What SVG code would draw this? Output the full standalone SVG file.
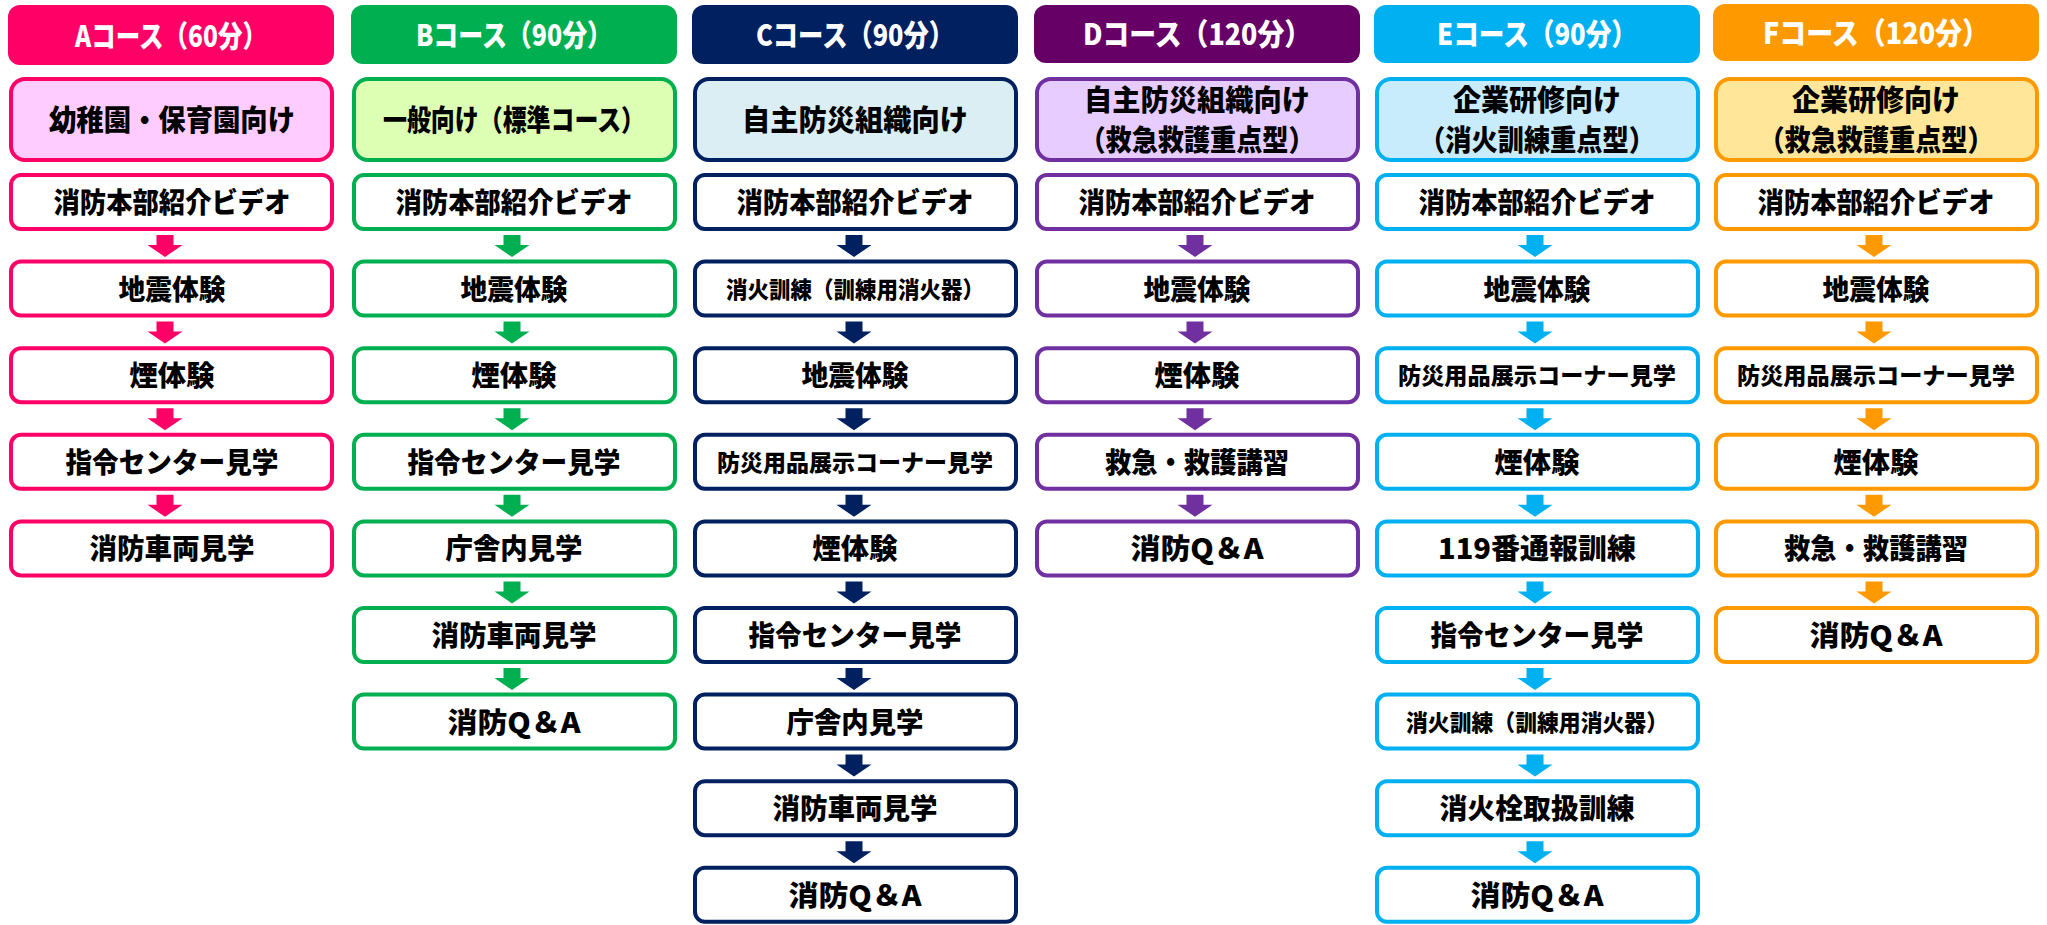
<svg xmlns="http://www.w3.org/2000/svg" width="2047" height="925" viewBox="0 0 2047 925">
<style>
text{font-family:"Noto Sans CJK JP","Noto Sans",sans-serif;font-weight:900;text-anchor:middle}
.h{fill:#fff;font-size:30px}
.s{fill:#000;font-size:29px}
.t{fill:#000;font-size:28px}
.m{fill:#000;font-size:23px}
.box{fill:#fff;stroke-width:4}
.sub{stroke-width:4}
.cA{stroke:#FF0066}.fA{fill:#FF0066}
.cB{stroke:#00B050}.fB{fill:#00B050}
.cC{stroke:#002060}.fC{fill:#002060}
.cD{stroke:#7030A0}.fD{fill:#7030A0}.hD{fill:#660066}
.cE{stroke:#00B0F0}.fE{fill:#00B0F0}
.cF{stroke:#FF9900}.fF{fill:#FF9900}
</style>
<rect width="2047" height="925" fill="#fff"/>

<!-- Column A -->
<g id="A-header"><rect x="8" y="5" width="326" height="60" rx="12" class="fA"/><text x="171" y="47" class="h" textLength="192" lengthAdjust="spacingAndGlyphs">Aコース（60分）</text></g>
<g id="A-sub"><rect x="11" y="79" width="321" height="81" rx="14" class="sub cA" fill="#FFCCFF"/><text x="172" y="131" class="s" textLength="246" lengthAdjust="spacingAndGlyphs">幼稚園・保育園向け</text></g>
<g id="A1"><rect x="11" y="175" width="321" height="54" rx="10" class="box cA"/><text x="172" y="213" class="t" textLength="237" lengthAdjust="spacingAndGlyphs">消防本部紹介ビデオ</text></g>
<g id="A2"><rect x="11" y="261.6" width="321" height="54" rx="10" class="box cA"/><text x="172" y="299.6" class="t" textLength="107" lengthAdjust="spacingAndGlyphs">地震体験</text></g>
<g id="A3"><rect x="11" y="348.2" width="321" height="54" rx="10" class="box cA"/><text x="172" y="386.2" class="t" textLength="85" lengthAdjust="spacingAndGlyphs">煙体験</text></g>
<g id="A4"><rect x="11" y="434.8" width="321" height="54" rx="10" class="box cA"/><text x="172" y="472.8" class="t" textLength="213" lengthAdjust="spacingAndGlyphs">指令センター見学</text></g>
<g id="A5"><rect x="11" y="521.4" width="321" height="54" rx="10" class="box cA"/><text x="172" y="559.4" class="t" textLength="165" lengthAdjust="spacingAndGlyphs">消防車両見学</text></g>

<!-- Column B -->
<g id="B-header"><rect x="351" y="5" width="326" height="59" rx="12" class="fB"/><text x="514" y="46" class="h" textLength="196" lengthAdjust="spacingAndGlyphs">Bコース（90分）</text></g>
<g id="B-sub"><rect x="354" y="79" width="321" height="81" rx="14" class="sub cB" fill="#DCFFB4"/><text x="514" y="131" class="s" textLength="262" lengthAdjust="spacingAndGlyphs">一般向け（標準コース）</text></g>
<g id="B1"><rect x="354" y="175" width="321" height="54" rx="10" class="box cB"/><text x="514" y="213" class="t" textLength="237" lengthAdjust="spacingAndGlyphs">消防本部紹介ビデオ</text></g>
<g id="B2"><rect x="354" y="261.6" width="321" height="54" rx="10" class="box cB"/><text x="514" y="299.6" class="t" textLength="107" lengthAdjust="spacingAndGlyphs">地震体験</text></g>
<g id="B3"><rect x="354" y="348.2" width="321" height="54" rx="10" class="box cB"/><text x="514" y="386.2" class="t" textLength="85" lengthAdjust="spacingAndGlyphs">煙体験</text></g>
<g id="B4"><rect x="354" y="434.8" width="321" height="54" rx="10" class="box cB"/><text x="514" y="472.8" class="t" textLength="213" lengthAdjust="spacingAndGlyphs">指令センター見学</text></g>
<g id="B5"><rect x="354" y="521.4" width="321" height="54" rx="10" class="box cB"/><text x="514" y="559.4" class="t" textLength="137" lengthAdjust="spacingAndGlyphs">庁舎内見学</text></g>
<g id="B6"><rect x="354" y="608" width="321" height="54" rx="10" class="box cB"/><text x="514" y="646" class="t" textLength="165" lengthAdjust="spacingAndGlyphs">消防車両見学</text></g>
<g id="B7"><rect x="354" y="694.6" width="321" height="54" rx="10" class="box cB"/><text x="514" y="732.6" class="t" textLength="133" lengthAdjust="spacingAndGlyphs">消防Q＆A</text></g>

<!-- Column C -->
<g id="C-header"><rect x="692" y="5" width="326" height="59" rx="12" class="fC"/><text x="855" y="46" class="h" textLength="198" lengthAdjust="spacingAndGlyphs">Cコース（90分）</text></g>
<g id="C-sub"><rect x="695" y="79" width="321" height="81" rx="14" class="sub cC" fill="#DAEEF3"/><text x="855" y="131" class="s" textLength="226" lengthAdjust="spacingAndGlyphs">自主防災組織向け</text></g>
<g id="C1"><rect x="695" y="175" width="321" height="54" rx="10" class="box cC"/><text x="855" y="213" class="t" textLength="237" lengthAdjust="spacingAndGlyphs">消防本部紹介ビデオ</text></g>
<g id="C2"><rect x="695" y="261.6" width="321" height="54" rx="10" class="box cC"/><text x="855" y="297.6" class="m" textLength="258" lengthAdjust="spacingAndGlyphs">消火訓練（訓練用消火器）</text></g>
<g id="C3"><rect x="695" y="348.2" width="321" height="54" rx="10" class="box cC"/><text x="855" y="386.2" class="t" textLength="107" lengthAdjust="spacingAndGlyphs">地震体験</text></g>
<g id="C4"><rect x="695" y="434.8" width="321" height="54" rx="10" class="box cC"/><text x="855" y="470.8" class="m" textLength="276" lengthAdjust="spacingAndGlyphs">防災用品展示コーナー見学</text></g>
<g id="C5"><rect x="695" y="521.4" width="321" height="54" rx="10" class="box cC"/><text x="855" y="559.4" class="t" textLength="85" lengthAdjust="spacingAndGlyphs">煙体験</text></g>
<g id="C6"><rect x="695" y="608" width="321" height="54" rx="10" class="box cC"/><text x="855" y="646" class="t" textLength="213" lengthAdjust="spacingAndGlyphs">指令センター見学</text></g>
<g id="C7"><rect x="695" y="694.6" width="321" height="54" rx="10" class="box cC"/><text x="855" y="732.6" class="t" textLength="137" lengthAdjust="spacingAndGlyphs">庁舎内見学</text></g>
<g id="C8"><rect x="695" y="781.2" width="321" height="54" rx="10" class="box cC"/><text x="855" y="819.2" class="t" textLength="165" lengthAdjust="spacingAndGlyphs">消防車両見学</text></g>
<g id="C9"><rect x="695" y="867.8" width="321" height="54" rx="10" class="box cC"/><text x="855" y="905.8" class="t" textLength="133" lengthAdjust="spacingAndGlyphs">消防Q＆A</text></g>

<!-- Column D -->
<g id="D-header"><rect x="1034" y="5" width="326" height="58" rx="12" class="hD"/><text x="1197" y="45" class="h" textLength="228" lengthAdjust="spacingAndGlyphs">Dコース（120分）</text></g>
<g id="D-sub"><rect x="1037" y="79" width="321" height="81" rx="14" class="sub cD" fill="#E6CCFF"/><text x="1197" y="111" class="s" textLength="226" lengthAdjust="spacingAndGlyphs">自主防災組織向け</text><text x="1197" y="151" class="s" textLength="235" lengthAdjust="spacingAndGlyphs">（救急救護重点型）</text></g>
<g id="D1"><rect x="1037" y="175" width="321" height="54" rx="10" class="box cD"/><text x="1197" y="213" class="t" textLength="237" lengthAdjust="spacingAndGlyphs">消防本部紹介ビデオ</text></g>
<g id="D2"><rect x="1037" y="261.6" width="321" height="54" rx="10" class="box cD"/><text x="1197" y="299.6" class="t" textLength="107" lengthAdjust="spacingAndGlyphs">地震体験</text></g>
<g id="D3"><rect x="1037" y="348.2" width="321" height="54" rx="10" class="box cD"/><text x="1197" y="386.2" class="t" textLength="85" lengthAdjust="spacingAndGlyphs">煙体験</text></g>
<g id="D4"><rect x="1037" y="434.8" width="321" height="54" rx="10" class="box cD"/><text x="1197" y="472.8" class="t" textLength="184" lengthAdjust="spacingAndGlyphs">救急・救護講習</text></g>
<g id="D5"><rect x="1037" y="521.4" width="321" height="54" rx="10" class="box cD"/><text x="1197" y="559.4" class="t" textLength="133" lengthAdjust="spacingAndGlyphs">消防Q＆A</text></g>

<!-- Column E -->
<g id="E-header"><rect x="1374" y="5" width="326" height="58" rx="12" class="fE"/><text x="1537" y="45" class="h" textLength="200" lengthAdjust="spacingAndGlyphs">Eコース（90分）</text></g>
<g id="E-sub"><rect x="1377" y="79" width="321" height="81" rx="14" class="sub cE" fill="#C8ECFC"/><text x="1537" y="111" class="s" textLength="168" lengthAdjust="spacingAndGlyphs">企業研修向け</text><text x="1537" y="151" class="s" textLength="236" lengthAdjust="spacingAndGlyphs">（消火訓練重点型）</text></g>
<g id="E1"><rect x="1377" y="175" width="321" height="54" rx="10" class="box cE"/><text x="1537" y="213" class="t" textLength="237" lengthAdjust="spacingAndGlyphs">消防本部紹介ビデオ</text></g>
<g id="E2"><rect x="1377" y="261.6" width="321" height="54" rx="10" class="box cE"/><text x="1537" y="299.6" class="t" textLength="107" lengthAdjust="spacingAndGlyphs">地震体験</text></g>
<g id="E3"><rect x="1377" y="348.2" width="321" height="54" rx="10" class="box cE"/><text x="1537" y="384.2" class="m" textLength="278" lengthAdjust="spacingAndGlyphs">防災用品展示コーナー見学</text></g>
<g id="E4"><rect x="1377" y="434.8" width="321" height="54" rx="10" class="box cE"/><text x="1537" y="472.8" class="t" textLength="85" lengthAdjust="spacingAndGlyphs">煙体験</text></g>
<g id="E5"><rect x="1377" y="521.4" width="321" height="54" rx="10" class="box cE"/><text x="1537" y="559.4" class="t" textLength="198" lengthAdjust="spacingAndGlyphs">119番通報訓練</text></g>
<g id="E6"><rect x="1377" y="608" width="321" height="54" rx="10" class="box cE"/><text x="1537" y="646" class="t" textLength="213" lengthAdjust="spacingAndGlyphs">指令センター見学</text></g>
<g id="E7"><rect x="1377" y="694.6" width="321" height="54" rx="10" class="box cE"/><text x="1537" y="730.6" class="m" textLength="262" lengthAdjust="spacingAndGlyphs">消火訓練（訓練用消火器）</text></g>
<g id="E8"><rect x="1377" y="781.2" width="321" height="54" rx="10" class="box cE"/><text x="1537" y="819.2" class="t" textLength="195" lengthAdjust="spacingAndGlyphs">消火栓取扱訓練</text></g>
<g id="E9"><rect x="1377" y="867.8" width="321" height="54" rx="10" class="box cE"/><text x="1537" y="905.8" class="t" textLength="133" lengthAdjust="spacingAndGlyphs">消防Q＆A</text></g>

<!-- Column F -->
<g id="F-header"><rect x="1713" y="4" width="326" height="57" rx="12" class="fF"/><text x="1876" y="44" class="h" textLength="226" lengthAdjust="spacingAndGlyphs">Fコース（120分）</text></g>
<g id="F-sub"><rect x="1716" y="79" width="321" height="81" rx="14" class="sub cF" fill="#FFE699"/><text x="1876" y="111" class="s" textLength="168" lengthAdjust="spacingAndGlyphs">企業研修向け</text><text x="1876" y="151" class="s" textLength="235" lengthAdjust="spacingAndGlyphs">（救急救護重点型）</text></g>
<g id="F1"><rect x="1716" y="175" width="321" height="54" rx="10" class="box cF"/><text x="1876" y="213" class="t" textLength="237" lengthAdjust="spacingAndGlyphs">消防本部紹介ビデオ</text></g>
<g id="F2"><rect x="1716" y="261.6" width="321" height="54" rx="10" class="box cF"/><text x="1876" y="299.6" class="t" textLength="107" lengthAdjust="spacingAndGlyphs">地震体験</text></g>
<g id="F3"><rect x="1716" y="348.2" width="321" height="54" rx="10" class="box cF"/><text x="1876" y="384.2" class="m" textLength="278" lengthAdjust="spacingAndGlyphs">防災用品展示コーナー見学</text></g>
<g id="F4"><rect x="1716" y="434.8" width="321" height="54" rx="10" class="box cF"/><text x="1876" y="472.8" class="t" textLength="85" lengthAdjust="spacingAndGlyphs">煙体験</text></g>
<g id="F5"><rect x="1716" y="521.4" width="321" height="54" rx="10" class="box cF"/><text x="1876" y="559.4" class="t" textLength="184" lengthAdjust="spacingAndGlyphs">救急・救護講習</text></g>
<g id="F6"><rect x="1716" y="608" width="321" height="54" rx="10" class="box cF"/><text x="1876" y="646" class="t" textLength="133" lengthAdjust="spacingAndGlyphs">消防Q＆A</text></g>

<defs>
<path id="arr" d="M-8.5,0 H8.5 V10 H17.5 L0,22 L-17.5,10 H-8.5 Z"/>
</defs>
<g id="connectors">
<g class="fA">
<use href="#arr" x="165" y="235"/><use href="#arr" x="165" y="321.6"/><use href="#arr" x="165" y="408.2"/><use href="#arr" x="165" y="494.8"/>
</g>
<g class="fB">
<use href="#arr" x="512" y="235"/><use href="#arr" x="512" y="321.6"/><use href="#arr" x="512" y="408.2"/><use href="#arr" x="512" y="494.8"/><use href="#arr" x="512" y="581.4"/><use href="#arr" x="512" y="668"/>
</g>
<g class="fC">
<use href="#arr" x="854" y="235"/><use href="#arr" x="854" y="321.6"/><use href="#arr" x="854" y="408.2"/><use href="#arr" x="854" y="494.8"/><use href="#arr" x="854" y="581.4"/><use href="#arr" x="854" y="668"/><use href="#arr" x="854" y="754.6"/><use href="#arr" x="854" y="841.2"/>
</g>
<g class="fD">
<use href="#arr" x="1195" y="235"/><use href="#arr" x="1195" y="321.6"/><use href="#arr" x="1195" y="408.2"/><use href="#arr" x="1195" y="494.8"/>
</g>
<g class="fE">
<use href="#arr" x="1535" y="235"/><use href="#arr" x="1535" y="321.6"/><use href="#arr" x="1535" y="408.2"/><use href="#arr" x="1535" y="494.8"/><use href="#arr" x="1535" y="581.4"/><use href="#arr" x="1535" y="668"/><use href="#arr" x="1535" y="754.6"/><use href="#arr" x="1535" y="841.2"/>
</g>
<g class="fF">
<use href="#arr" x="1874" y="235"/><use href="#arr" x="1874" y="321.6"/><use href="#arr" x="1874" y="408.2"/><use href="#arr" x="1874" y="494.8"/><use href="#arr" x="1874" y="581.4"/>
</g>
</g>
</svg>
